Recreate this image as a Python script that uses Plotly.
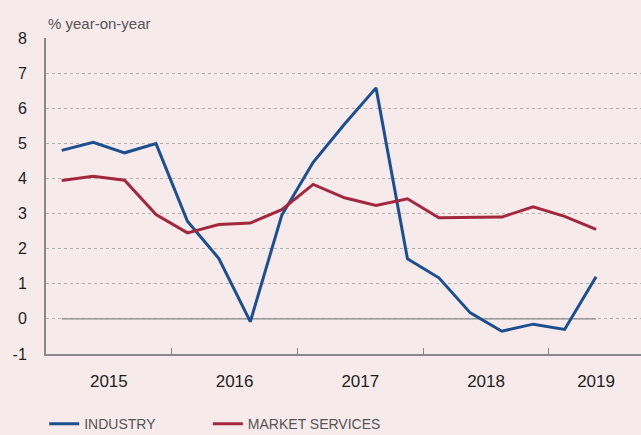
import plotly.graph_objects as go

quarters = ["2015Q1","2015Q2","2015Q3","2015Q4","2016Q1","2016Q2","2016Q3","2016Q4",
            "2017Q1","2017Q2","2017Q3","2017Q4","2018Q1","2018Q2","2018Q3","2018Q4",
            "2019Q1","2019Q2"]
industry = [4.80, 5.03, 4.73, 4.99, 2.78, 1.72, -0.08, 2.95, 4.46, 5.55, 6.58, 1.71,
            1.17, 0.17, -0.35, -0.15, -0.30, 1.20]
market_services = [3.94, 4.06, 3.95, 2.97, 2.45, 2.69, 2.73, 3.11, 3.83, 3.45, 3.23, 3.42,
                   2.88, 2.89, 2.90, 3.19, 2.92, 2.55]
year_labels = ["2015", "2016", "2017", "2018", "2019"]
year_label_pos = [2, 6, 10, 14, 17.5]
year_bounds = [4, 8, 12, 16]
y_ticks = [-1, 0, 1, 2, 3, 4, 5, 6, 7, 8]
y_tick_text = ["-1", "0", "1", "2", "3", "4", "5", "6", "7", "8"]

xpos = [i + 0.5 for i in range(len(quarters))]

BG = "#f6eaeb"
BLUE = "#1c4f8f"
RED = "#a3283f"
GRID = "#b3b0b0"
AXIS = "#8a8888"

fig = go.Figure()
# zero reference line spanning the data period
fig.add_trace(go.Scatter(x=[xpos[0], xpos[-1]], y=[0, 0], mode="lines",
                         line=dict(color="#8a8888", width=1.4),
                         showlegend=False, hoverinfo="skip"))
fig.add_trace(go.Scatter(x=xpos, y=industry, mode="lines", name="INDUSTRY",
                         line=dict(color=BLUE, width=3), legend="legend"))
fig.add_trace(go.Scatter(x=xpos, y=market_services, mode="lines", name="MARKET SERVICES",
                         line=dict(color=RED, width=3), legend="legend2"))

legend_font = dict(family="Liberation Sans Narrow, Liberation Sans, Arial, sans-serif",
                   size=14, color="#555555")

fig.update_layout(
    width=641, height=435,
    paper_bgcolor=BG, plot_bgcolor=BG,
    margin=dict(l=46, r=0, t=38, b=81, autoexpand=False),
    font=dict(family="Liberation Sans, Arial, sans-serif", color="#1e1e1e"),
    showlegend=True,
    legend=dict(orientation="h", x=-0.003, xanchor="left", y=-0.222, yanchor="middle",
                bgcolor="rgba(0,0,0,0)", font=legend_font),
    legend2=dict(orientation="h", x=0.272, xanchor="left", y=-0.222, yanchor="middle",
                 bgcolor="rgba(0,0,0,0)", font=legend_font),
    xaxis=dict(range=[0, 18.93], showgrid=False, zeroline=False, automargin=False,
               showline=True, linecolor=AXIS, linewidth=1.5,
               tickmode="array", tickvals=year_label_pos, ticktext=year_labels,
               ticks="", tickfont=dict(size=17, color="#1e1e1e"),
               ticklabelstandoff=11,
               minor=dict(tickmode="array", tickvals=year_bounds, ticks="inside",
                          ticklen=6, tickwidth=1.3, tickcolor=AXIS, showgrid=False)),
    yaxis=dict(range=[-1, 8], tickmode="array", tickvals=y_ticks, ticktext=y_tick_text,
               automargin=False,
               showgrid=True, gridcolor=GRID, gridwidth=1.2, griddash="3px,3px",
               zeroline=False, showline=True, linecolor=AXIS, linewidth=2,
               ticks="", tickfont=dict(size=16, color="#1e1e1e"),
               ticklabelstandoff=14),
    annotations=[dict(text="% year-on-year", xref="paper", yref="paper", x=0, y=1,
                      xanchor="left", yanchor="bottom", yshift=4, showarrow=False,
                      font=dict(size=15, color="#555555"))],
)

fig.write_html("out.html", config={"displayModeBar": False},
               post_script="document.body.style.margin='0';document.body.style.overflow='hidden';")
